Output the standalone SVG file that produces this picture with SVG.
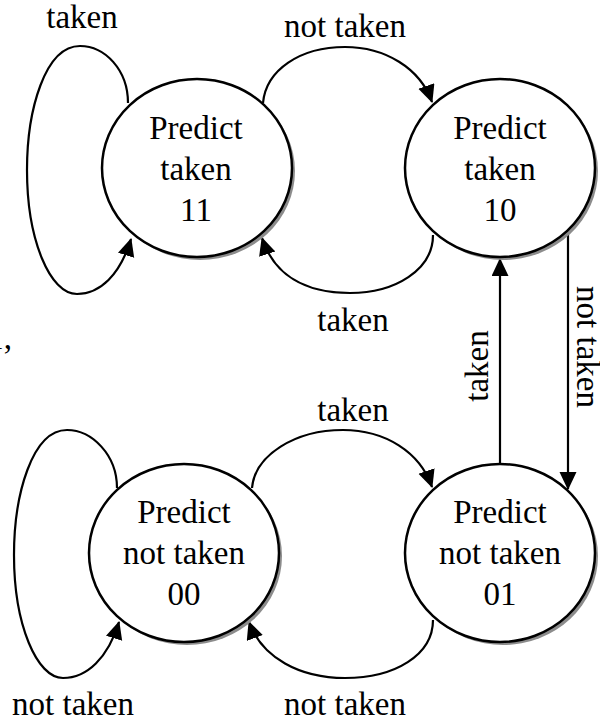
<svg xmlns="http://www.w3.org/2000/svg" width="600" height="721" viewBox="0 0 600 721">
<style>
text{font-family:"Liberation Serif","Times New Roman",serif;font-size:33px;fill:#000;text-anchor:middle}
.shadow{fill:#8c8c8c;stroke:none}
.state{fill:#fff;stroke:#000;stroke-width:2.5}
.edge{fill:none;stroke:#000;stroke-width:2.2;marker-end:url(#arrow)}
</style>
<defs>
<marker id="arrow" markerUnits="userSpaceOnUse" markerWidth="20" markerHeight="18" refX="17" refY="8.5" orient="auto">
<path d="M0,0 L18,8.5 L0,17 Z" fill="#000"/>
</marker>
</defs>
<rect width="600" height="721" fill="#fff"/>
<g id="connectors">
<path class="edge" d="M128,103 C128,70 105,46 80,46 C45,46 27,110 27,170 C27,240 50,294 77,294 C100,294 120,275 131,239"/>
<path class="edge" d="M263,103 C266,70 300,47 345,47 C385,47 420,68 432,102"/>
<path class="edge" d="M433,235 C433,270 395,293 350,293 C305,293 274,275 262,238"/>
<path class="edge" d="M117,488 C117,455 92,430 67,430 C32,430 14,495 14,555 C14,625 37,678 63,678 C87,678 108,658 119,622"/>
<path class="edge" d="M252,488 C255,455 295,430 343,430 C385,430 420,452 432,487"/>
<path class="edge" d="M433,620 C433,655 395,678 345,678 C300,678 262,658 249,622"/>
<path class="edge" d="M500,463 L500,259"/>
<path class="edge" d="M568,232 L568,489"/>
<text x="82" y="28">taken</text>
<text x="345" y="37">not taken</text>
<text x="353" y="331">taken</text>
<text x="353" y="421">taken</text>
<text transform="translate(488,366) rotate(-90)">taken</text>
<text transform="translate(577,347) rotate(90)">not taken</text>
<text x="73" y="715">not taken</text>
<text x="345" y="715">not taken</text>
<text x="12" y="349" style="text-anchor:end">1,</text>
</g>
<g id="s11">
<ellipse class="shadow" cx="200" cy="171" rx="95" ry="89"/>
<ellipse class="state" cx="197" cy="168" rx="95" ry="89"/>
<text x="196" y="139">Predict</text>
<text x="196" y="180">taken</text>
<text x="196" y="221">11</text>
</g>
<g id="s10">
<ellipse class="shadow" cx="503" cy="171" rx="95" ry="89"/>
<ellipse class="state" cx="500" cy="168" rx="95" ry="89"/>
<text x="500" y="139">Predict</text>
<text x="500" y="180">taken</text>
<text x="500" y="221">10</text>
</g>
<g id="s00">
<ellipse class="shadow" cx="187" cy="556" rx="95" ry="89"/>
<ellipse class="state" cx="184" cy="553" rx="95" ry="89"/>
<text x="184" y="523">Predict</text>
<text x="184" y="564">not taken</text>
<text x="184" y="605">00</text>
</g>
<g id="s01">
<ellipse class="shadow" cx="503" cy="556" rx="95" ry="89"/>
<ellipse class="state" cx="500" cy="553" rx="95" ry="89"/>
<text x="500" y="523">Predict</text>
<text x="500" y="564">not taken</text>
<text x="500" y="605">01</text>
</g>
</svg>
